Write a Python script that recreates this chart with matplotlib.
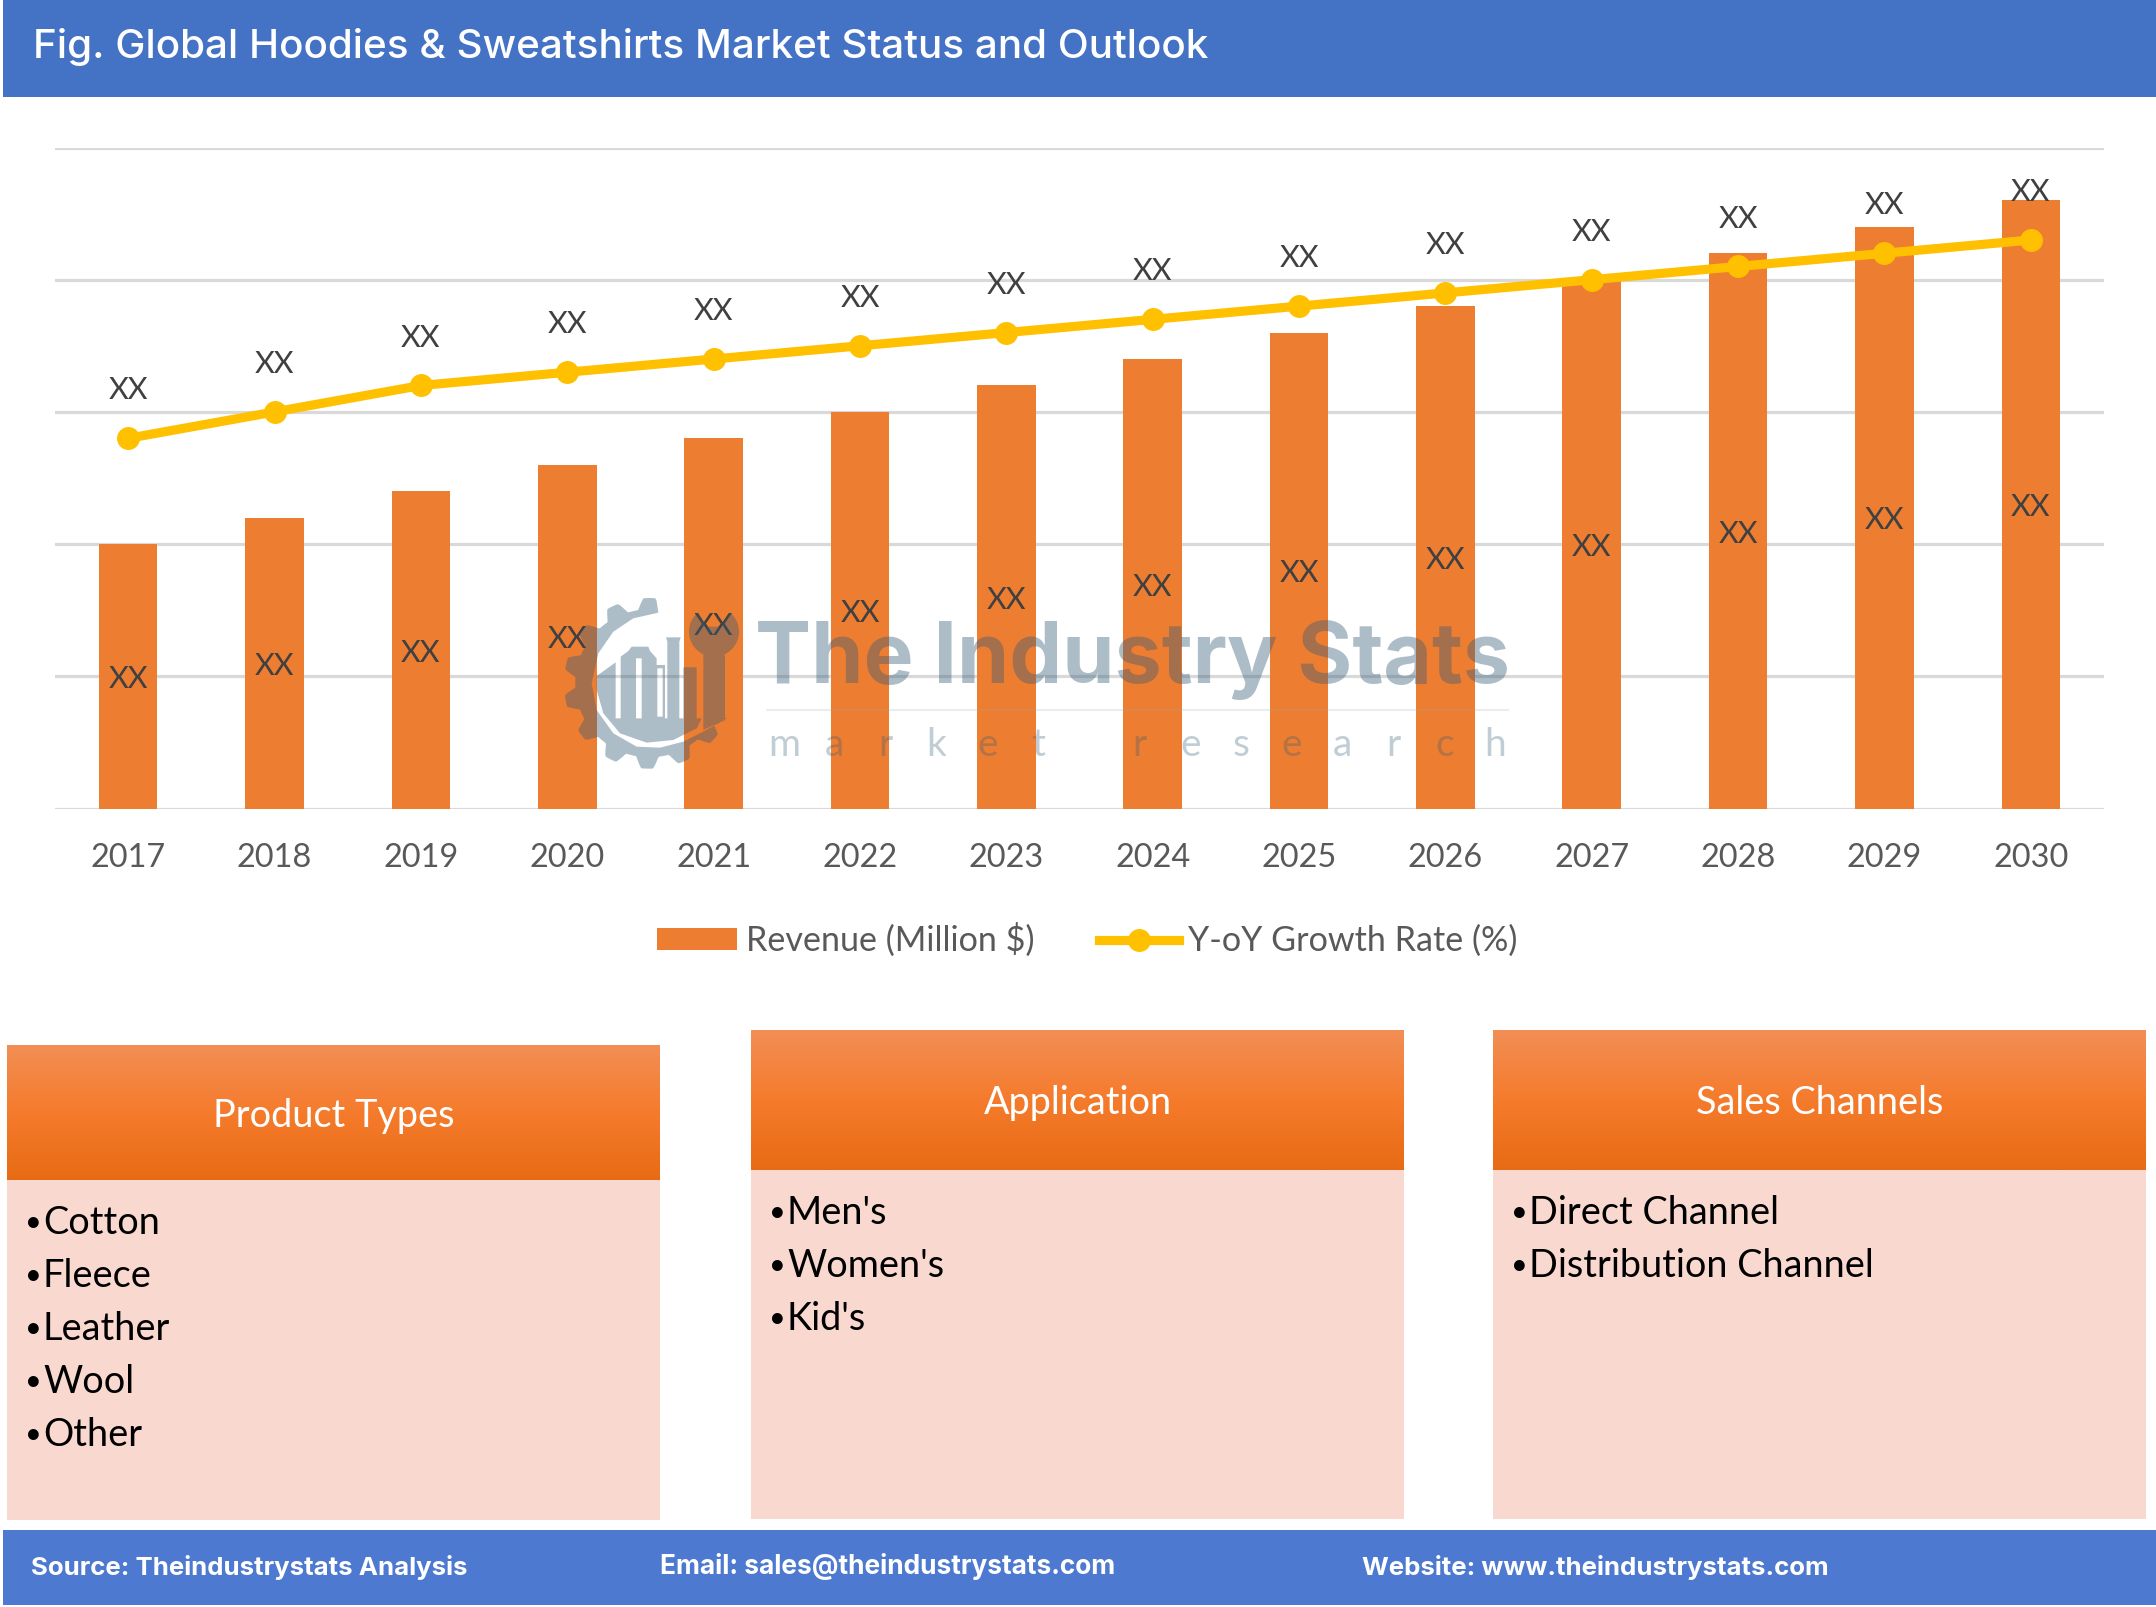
import numpy as np
import matplotlib
matplotlib.use("Agg")
import matplotlib.pyplot as plt
from matplotlib.patches import Rectangle, PathPatch, Patch
from matplotlib.path import Path
from matplotlib.lines import Line2D

years = [2017, 2018, 2019, 2020, 2021, 2022, 2023, 2024, 2025, 2026, 2027, 2028, 2029, 2030]
revenue = [2.0, 2.2, 2.4, 2.6, 2.8, 3.0, 3.2, 3.4, 3.6, 3.8, 4.0, 4.2, 4.4, 4.6]
growth = [2.8, 3.0, 3.2, 3.3, 3.4, 3.5, 3.6, 3.7, 3.8, 3.9, 4.0, 4.1, 4.2, 4.3]
point_labels = ["XX"] * 14
title = "Fig. Global Hoodies & Sweatshirts Market Status and Outlook"
box_titles = ["Product Types", "Application", "Sales Channels"]
product_types = ["Cotton", "Fleece", "Leather", "Wool", "Other"]
applications = ["Men's", "Women's", "Kid's"]
channels = ["Direct Channel", "Distribution Channel"]
footer = ["Source: Theindustrystats Analysis", "Email: sales@theindustrystats.com", "Website: www.theindustrystats.com"]

W, H = 2156, 1607
BODY = "Lato"
HEAD = "Inter"
fig = plt.figure(figsize=(W / 100, H / 100), dpi=100, facecolor="white")

# background layer in pixel coordinates
bg = fig.add_axes([0, 0, 1, 1], zorder=0)
bg.axis("off")
bg.add_patch(Rectangle((3, 0), W - 3, 96.5, fc="#4472C4", ec="none"))
bg.add_patch(Rectangle((3, 1530), W - 3, 75, fc="#4D7AD0", ec="none"))
bg.text(33, 47, title, color="white", fontsize=29.1, family=HEAD, fontweight="medium", va="center", ha="left")
for t, x, fs in zip(footer, [31, 660, 1362], [18.55, 18.9, 18.6]):
    bg.text(x, 1567, t, color="white", fontsize=fs, family=HEAD, fontweight="bold", va="center", ha="left")

boxes = [(7, 660, 1045, 1180, 1520, product_types),
         (751, 1404, 1030, 1170, 1519, applications),
         (1493, 2146, 1030, 1170, 1519, channels)]
cmap = matplotlib.colors.LinearSegmentedColormap.from_list(
    "g", ["#F28E55", "#F57B2C", "#E86B14"])
for (x0, x1, y0, y1, y2, items), head in zip(boxes, box_titles):
    bg.add_patch(Rectangle((x0, y1), x1 - x0, y2 - y1, fc="#F9D9CF", ec="none"))
    bg.imshow(np.linspace(0, 1, 128).reshape(-1, 1), cmap=cmap, extent=(x0, x1, y1, y0), aspect="auto", zorder=2)
    bg.text((x0 + x1) / 2, (y0 + y1) / 2 + 3, head, color="white", fontsize=27.3, family=BODY, va="center", ha="center", zorder=3)
    for i, item in enumerate(items):
        y = y1 + 43 + i * 53
        bg.text(x0 + 18, y, "•", color="black", fontsize=21, family=BODY, va="center", ha="left", zorder=3)
        bg.text(x0 + 36, y, item, color="black", fontsize=27.3, family=BODY, va="center", ha="left", zorder=3)
bg.set_xlim(0, W)
bg.set_ylim(H, 0)

# chart
ax = fig.add_axes([55 / W, 1 - 808.5 / H, (2104 - 55) / W, (808.5 - 147.5) / H], zorder=1)
ax.patch.set_alpha(0)
x = np.arange(len(years))
ax.bar(x, revenue, width=0.4, color="#ED7D31", zorder=2)
ax.plot(x, growth, color="#FFC000", lw=6.6, marker="o", ms=15.5, zorder=3, solid_capstyle="round")
for xi, r, g, lab in zip(x, revenue, growth, point_labels):
    ax.annotate(lab, (xi, r / 2), xytext=(0, -2), textcoords="offset points", ha="center", va="center",
                fontsize=22, color="#404040", family=BODY, zorder=5)
    ax.annotate(lab, (xi, g), xytext=(0, 34.5), textcoords="offset points", ha="center", va="center",
                fontsize=22, color="#404040", family=BODY, zorder=5)
ax.set_xlim(-0.5, len(years) - 0.5)
ax.set_ylim(0, 5)
ax.set_yticks(range(6))
ax.set_yticklabels([])
ax.set_xticks(x)
ax.set_xticklabels(years, fontsize=23.4, color="#595959", family=BODY)
ax.tick_params(length=0, axis="both")
ax.tick_params(axis="x", pad=24.5)
ax.grid(axis="y", color="#D9D9D9", lw=2.3, zorder=1)
ax.set_axisbelow(True)
for s in ax.spines.values():
    s.set_visible(False)
handles = [Patch(fc="#ED7D31", ec="none", label="Revenue (Million $)"),
           Line2D([0], [0], color="#FFC000", lw=6.6, marker="o", ms=15.5, label="Y-oY Growth Rate (%)")]
ax.legend(handles=handles, ncol=2, loc="center",
          bbox_to_anchor=((1087 - 55) / (2104 - 55), -(940 - 808.5) / (808.5 - 147.5)),
          frameon=False, prop={"family": BODY, "size": 24.6}, labelcolor="#595959",
          handlelength=2.35, handletextpad=0.25, columnspacing=1.9, handleheight=0.6)

# watermark on top of everything
wm = fig.add_axes([0, 0, 1, 1], zorder=3)
wm.axis("off")
wm.patch.set_alpha(0)
wm.set_xlim(0, W)
wm.set_ylim(H, 0)
WM = (52 / 255, 92 / 255, 117 / 255)
wm.text(755, 660, "The Industry Stats", fontsize=60.5, family=HEAD, fontweight="bold", color=WM, alpha=0.4, va="center", ha="left")
wm.plot([767, 1508], [710, 710], color="#9AA9A9", lw=1.5, alpha=0.2)
letters = "market research"
lx = np.linspace(784, 1495, len(letters))
for ch, xx in zip(letters, lx):
    if ch != " ":
        wm.text(xx, 745, ch, fontsize=28, family=BODY, color=WM, alpha=0.3, va="center", ha="center")


def P(pts):
    """logo outline, crop units -> picture pixels"""
    a = np.asarray(pts, float)
    a = np.c_[550 + a[:, 0] / 3, 590 + a[:, 1] / 3]
    return Path(np.r_[a, a[:1]], closed=True)


def arc(a0, a1):
    t = np.radians(np.linspace(a0, a1, 40))
    return np.c_[492 + 75 * np.cos(t), 125 - 75 * np.sin(t)]


# gear: toothed outer edge, then inner edge back to the start
ang = np.linspace(85, 335, 260)
rad = 222 + 34 * np.clip(0.5 + 0.9 * np.cos(np.radians((ang - 90) * 360 / 25.5)), 0, 1)
outer = np.c_[298 + rad * np.cos(np.radians(ang)), 280 - rad * np.sin(np.radians(ang))]
inner = [(530, 385), (460, 425), (400, 455), (330, 473), (260, 470), (190, 430), (140, 360),
         (125, 280), (145, 190), (190, 125), (250, 85), (325, 68)]
gear = P(np.r_[outer, inner])
# plant: skyline above, arc below, window holes
plant = P([(140, 258), (197, 217), (197, 385), (212, 385), (212, 200), (235, 183), (245, 170), (295, 170),
           (300, 183), (320, 205), (320, 225), (345, 225), (345, 385), (352, 385), (352, 155), (348, 142),
           (392, 142), (388, 155), (388, 385), (400, 385), (400, 232), (440, 232), (440, 385), (455, 385),
           (440, 415), (370, 450), (290, 458), (210, 430), (160, 370), (140, 300)])
hole1 = P([(258, 205), (258, 385), (275, 385), (275, 205)])
hole2 = P([(322, 235), (322, 380), (338, 380), (338, 235)])
# wrench
wrench = P(np.r_[[(460, 420), (460, 200)], arc(245, 130), [(470, 110), (515, 110)], arc(50, -65),
                 [(525, 205), (525, 390)]])
wm.add_patch(PathPatch(Path.make_compound_path(gear, plant, hole1, hole2, wrench), fc=WM, ec="none", alpha=0.4))

fig.savefig("out.png", dpi=100)
